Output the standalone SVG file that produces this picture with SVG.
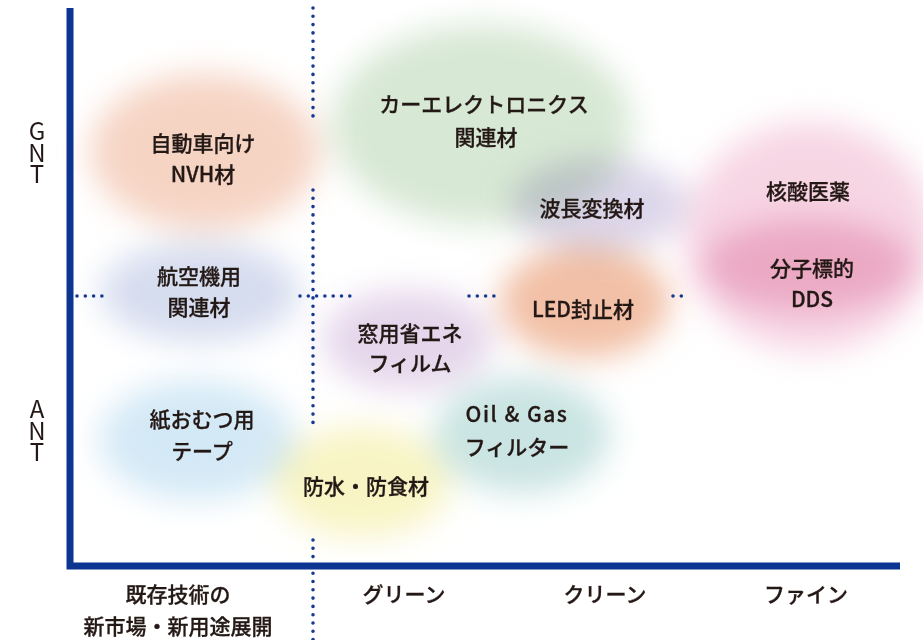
<svg xmlns="http://www.w3.org/2000/svg" width="923" height="640" viewBox="0 0 923 640">
<defs>
<filter id="blur" x="-50%" y="-50%" width="200%" height="200%"><feGaussianBlur stdDeviation="16"/></filter>
<style>
.blob{filter:url(#blur);mix-blend-mode:multiply}
.t{font-family:"Noto Sans CJK JP","Noto Sans",sans-serif;font-size:21px;font-weight:500;fill:#231815;stroke:#231815;stroke-width:0.3;text-anchor:middle}
.ax{font-family:"Noto Sans CJK JP","Noto Sans",sans-serif;font-size:24px;fill:#231815;writing-mode:vertical-rl;text-orientation:upright;letter-spacing:-2.5px}
.dot{stroke:#163a94;stroke-width:3.6;stroke-linecap:round;stroke-dasharray:0 8.3;fill:none}
.axis{stroke:#0c3591;stroke-width:7;fill:none}
</style>
</defs>
<rect width="923" height="640" fill="#fff"/>
<g id="blobs">
<ellipse class="blob" cx="810" cy="237" rx="125" ry="115" fill="#f7d6e4"/>
<ellipse class="blob" cx="808" cy="265" rx="105" ry="46" fill="#f3c9dc"/>
<ellipse class="blob" cx="482" cy="125" rx="150" ry="100" fill="#d7e8d4"/>
<ellipse class="blob" cx="600" cy="205" rx="88" ry="46" fill="#dcd6ea"/>
<ellipse class="blob" cx="585" cy="302" rx="85" ry="56" fill="#f2c0a6"/>
<ellipse class="blob" cx="205" cy="152" rx="115" ry="78" fill="#f6d4c4"/>
<ellipse class="blob" cx="200" cy="292" rx="100" ry="50" fill="#d6ddef"/>
<ellipse class="blob" cx="197" cy="440" rx="98" ry="60" fill="#d4e9f6"/>
<ellipse class="blob" cx="408" cy="340" rx="85" ry="50" fill="#e5d6eb"/>
<ellipse class="blob" cx="522" cy="435" rx="88" ry="58" fill="#c9e4e2"/>
<ellipse class="blob" cx="362" cy="482" rx="88" ry="55" fill="#f8f4c4"/>
</g>
<g id="connectors">
<path class="dot" d="M313 8V118M313 190V428M313 540V640"/>
<path class="dot" d="M77 296H102M300 296H352M469 296H500M673 296H684"/>
<polyline class="axis" points="70,8 70,566 900,566"/>
</g>
<g id="axis-labels">
<text class="ax" x="37" y="119">GNT</text>
<text class="ax" x="37" y="397">ANT</text>
<text class="t" x="178" y="602">既存技術の</text>
<text class="t" x="178" y="634">新市場・新用途展開</text>
<text class="t" x="404" y="602">グリーン</text>
<text class="t" x="605" y="602">クリーン</text>
<text class="t" x="806" y="602">ファイン</text>
</g>
<g id="node-nvh"><text class="t" x="203" y="151">自動車向け</text><text class="t" x="203" y="182">NVH材</text></g>
<g id="node-aircraft"><text class="t" x="199" y="284">航空機用</text><text class="t" x="199" y="315">関連材</text></g>
<g id="node-diaper"><text class="t" x="202" y="427">紙おむつ用</text><text class="t" x="202" y="459">テープ</text></g>
<g id="node-car"><text class="t" x="484" y="112">カーエレクトロニクス</text><text class="t" x="486" y="145">関連材</text></g>
<g id="node-wave"><text class="t" x="592" y="216">波長変換材</text></g>
<g id="node-led"><text class="t" x="583" y="317">LED封止材</text></g>
<g id="node-nucleic"><text class="t" x="808" y="199">核酸医薬</text></g>
<g id="node-dds"><text class="t" x="812" y="276">分子標的</text><text class="t" x="812" y="307">DDS</text></g>
<g id="node-window"><text class="t" x="410" y="341">窓用省エネ</text><text class="t" x="410" y="371">フィルム</text></g>
<g id="node-oil"><text class="t" x="517" y="422" letter-spacing="1.5">Oil &amp; Gas</text><text class="t" x="517" y="455">フィルター</text></g>
<g id="node-water"><text class="t" x="366" y="494">防水・防食材</text></g>
</svg>
